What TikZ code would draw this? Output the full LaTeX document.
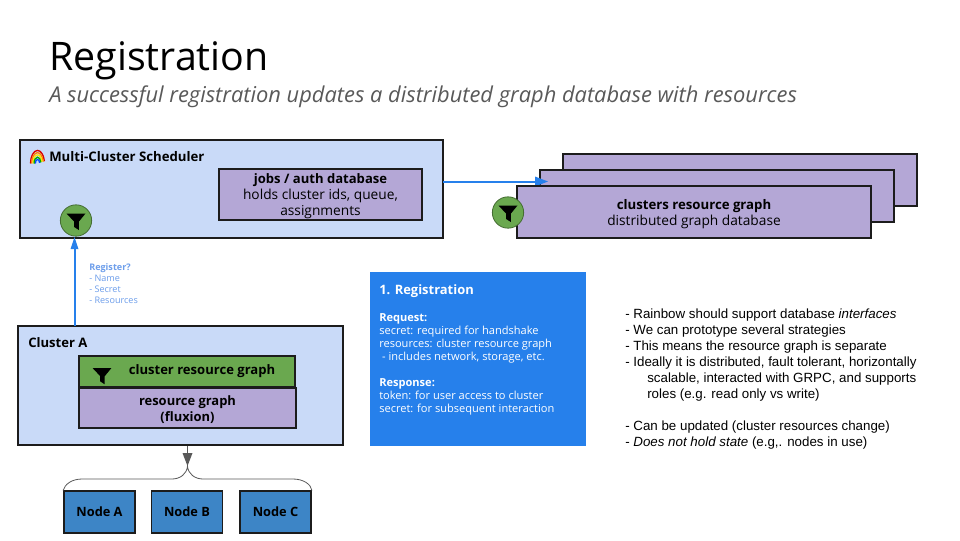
\documentclass[tikz,border=0pt]{standalone}
\usepackage{fontspec}
\usetikzlibrary{calc}
\setmainfont{Open Sans}
\newfontfamily\arialfont{Liberation Sans}
\definecolor{lightblue}{HTML}{C9DAF8}
\definecolor{boxpurple}{HTML}{B4A7D6}
\definecolor{boxgreen}{HTML}{6AA84F}
\definecolor{nodeblue}{HTML}{3D85C6}
\definecolor{brightblue}{HTML}{2680EB}
\definecolor{reglabel}{HTML}{6D9EEB}
\definecolor{graytext}{HTML}{595959}
\definecolor{linegray}{HTML}{1C1C1C}
\newcommand{\fs}[2]{\fontsize{#1}{#2}\selectfont}
\newcommand{\funnelicon}[2]{%
  \fill[black,shift={(#1)},scale=#2]
    (-9.5,-7) -- (9.5,-7) -- (2.8,1.2) -- (2.8,9.5) -- (-1.8,6.5) -- (-1.8,1.2) -- cycle;}
\tikzset{
  x=0.75pt,y=-0.75pt,
  panel/.style={draw=linegray,line width=1.5pt,fill=lightblue,minimum width=0pt,inner sep=0pt},
  purplebox/.style={draw=linegray,line width=1.5pt,fill=boxpurple,inner sep=0pt,align=center,text=black},
  greenbox/.style={draw=linegray,line width=1.5pt,fill=boxgreen,inner sep=0pt,align=center,text=black},
  leafbox/.style={draw=linegray,line width=1.4pt,fill=nodeblue,inner sep=0pt,minimum width=53.2pt,minimum height=31pt,font=\fs{9.6}{11}\bfseries},
  funnelbadge/.style={circle,draw=black!35!boxgreen,line width=.6pt,fill=boxgreen,minimum size=23.5pt,inner sep=0pt},
  bluearrow/.style={draw=brightblue,line width=1.5pt},
  bluehead/.style={fill=brightblue},
  txt/.style={inner sep=0pt,anchor=west,align=left},
}
\begin{document}
\begin{tikzpicture}
\useasboundingbox (0,0) rectangle (960,540);
\fill[white] (0,0) rectangle (960,540);
% title
\node[txt] (title) at (49,60.5) {\fs{29.5}{36}Registration};
\node[txt,text=graytext] (subtitle) at (49,96.5) {\fs{16.4}{18}\itshape A successful registration updates a distributed graph database with resources};
% stacked boxes
\node[purplebox,minimum width=265.5pt,minimum height=38.5pt] (back) at (740,180) {};
\node[purplebox,minimum width=265.5pt,minimum height=38.5pt] (middle) at (717,196) {};
% scheduler
\node[panel,minimum width=317.2pt,minimum height=73.5pt] (sched) at (231.5,188.5) {};
\node[txt] (schedlabel) at (49,156.5) {\fs{9.9}{11}\bfseries Multi-Cluster Scheduler};
% rainbow emoji
\begin{scope}[shift={(37.5,163.5)}]
 \foreach \r/\c in {7/red!85!black,5.8/orange,4.6/yellow!90!orange,3.4/green!65!black,2.2/blue!70!cyan}
   \draw[\c,line width=1pt] (-\r,0) arc[start angle=180,end angle=10,x radius=\r*0.75pt,y radius=\r*1.4pt];
\end{scope}
\node[purplebox,minimum width=152pt,minimum height=38.5pt] (jobs) at (320.5,194.5) {};
\node[inner sep=0pt,align=center,font=\fs{10.3}{12}] (jobslabel) at (320.5,196) {{\fs{9.8}{12}\bfseries jobs / auth database}\\holds cluster ids, queue,\\assignments};
% arrow to graph db
\coordinate (schedout) at (443,181.5);
\coordinate (graphin) at (548,181.5);
\draw[bluearrow] (schedout) -- ($(graphin)+(-10,0)$);
\fill[bluehead] (graphin) -- ++(-13,-5) -- ++(0,10) -- cycle;
% front box
\node[purplebox,minimum width=265.5pt,minimum height=38.5pt] (front) at (694,212) {};
\node[inner sep=0pt,align=center,font=\fs{10.3}{12}] (frontlabel) at (694,214) {{\fs{9.9}{12}\bfseries clusters resource graph}\\distributed graph database};
\node[funnelbadge] (frontbadge) at (508,212.5) {};
\funnelicon{frontbadge.center}{1}
% scheduler badge
\node[funnelbadge] (schedbadge) at (76,220.5) {};
\funnelicon{schedbadge.center}{1}
% register
\node[panel,minimum width=243.5pt,minimum height=89.5pt] (cluster) at (180.5,385.5) {};
\node[txt] (clusterlabel) at (28,343) {\fs{9.8}{11}\bfseries Cluster A};
\coordinate (regstart) at (74.5,325.5);
\coordinate (regend) at (74.5,237);
\draw[bluearrow] (regstart) -- ($(regend)+(0,10)$);
\fill[bluehead] (regend) -- ++(-4,12) -- ++(8,0) -- cycle;
\node[txt,anchor=north west,text=reglabel,font=\fs{6.8}{8.4}] (reglabel) at (89,263) {\textbf{Register?}\\- Name\\- Secret\\- Resources};
% cluster inner
\node[greenbox,minimum width=162pt,minimum height=23pt] (crg) at (187,371.5) {};
\node[inner sep=0pt] (crglabel) at (202,371.5) {\fs{9.8}{11}\bfseries cluster resource graph};
\funnelicon{102,375}{0.98}
\node[purplebox,minimum width=162.5pt,minimum height=30pt] (rg) at (187.5,408) {};
\node[inner sep=0pt,align=center,font=\fs{9.7}{12}\bfseries] (rglabel) at (187.5,410) {resource graph\\(fluxion)};
% leaves
\node[leafbox] (na) at (99.5,512) {Node A};
\node[leafbox] (nb) at (187,512) {Node B};
\node[leafbox] (nc) at (275.5,512) {Node C};
\coordinate (brace) at (187.5,466);
\draw[graytext,line width=1.4pt] (cluster.south -| brace) -- ($(brace)+(0,-8)$);
\fill[graytext] (brace) -- ++(-5,-13) -- ++(10,0) -- cycle;
\draw[graytext,line width=.6pt] (na.north west) .. controls (65,484) and (72,479) .. (82,479) -- (172,479) .. controls (180,479) and (187,474) .. (brace) .. controls (188,474) and (195,479) .. (203,479) -- (293,479) .. controls (303,479) and (311,484) .. (nc.north east);
% blue panel
\node[draw=none,fill=brightblue,minimum width=162pt,minimum height=130.5pt,inner sep=0pt] (reg) at (478,359) {};
\node[txt,anchor=north west,text=white,font=\fs{9.7}{12}\bfseries] (regtitle) at (379,284.5) {1. Registration};
\node[txt,anchor=north west,text=white,font=\fs{8.3}{9.75}] (regbody) at (379,313.5) {\textbf{Request:}\\secret: required for handshake\\resources: cluster resource graph\\\ - includes network, storage, etc.\\[9.75pt]\textbf{Response:}\\token: for user access to cluster\\secret: for subsequent interaction};
% notes
\node[txt,anchor=north west,font=\arialfont\fs{10}{12}] (notes) at (625,309) {- Rainbow should support database \textit{interfaces}\\- We can prototype several strategies\\- This means the resource graph is separate\\- Ideally it is distributed, fault tolerant, horizontally\\\hspace*{16.5pt}scalable, interacted with GRPC, and supports\\\hspace*{16.5pt}roles (e.g. read only vs write)\\[12pt]- Can be updated (cluster resources change)\\- \textit{Does not hold state} (e.g,. nodes in use)};
\end{tikzpicture}
\end{document}
